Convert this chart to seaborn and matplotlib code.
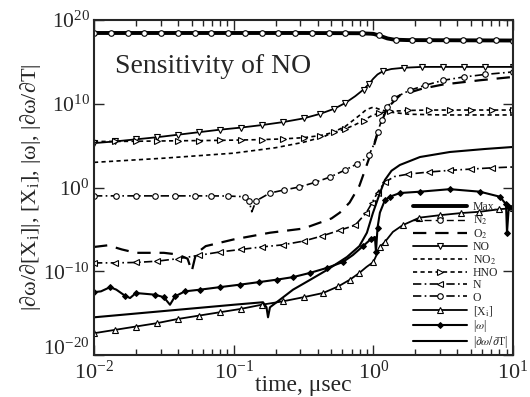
import numpy as np
import matplotlib
matplotlib.use("Agg")
import matplotlib.pyplot as plt
import matplotlib.ticker as mticker
import seaborn as sns

# values, stored as log10 exponents (time in usec)
max_t = [-2.0, -0.5, -0.1, 0.0, 0.05, 0.1, 0.15, 0.25, 1.0]
max_v = [18.45, 18.45, 18.42, 18.35, 18.1, 17.8, 17.65, 17.6, 17.55]

n2_t = [-2.0, -1.88, -1.76, -1.64, -1.52, -1.40, -1.28, -1.16, -1.04, -0.92, -0.80, -0.68, -0.56,
        -0.44, -0.32, -0.20, -0.08, 0.04, 0.16, 0.28, 0.40, 0.52, 0.64, 0.76, 0.88, 1.0]
n2_v = [18.45] * 16 + [18.42, 18.15, 17.65, 17.58, 17.58, 17.57, 17.57, 17.56, 17.56, 17.55]

o2_t = [-2.0, -1.9, -1.8, -1.7, -1.5, -1.4, -1.33, -1.3, -1.27, -1.2, -1.0, -0.74, -0.5, -0.3,
        -0.24, -0.17, -0.1, -0.07, -0.03, 0.01, 0.05, 0.1, 0.19, 0.35, 0.5, 0.76, 1.0]
o2_v = [-7.1, -6.9, -7.4, -7.8, -7.8, -8.0, -8.5, -10.0, -7.9, -7.0, -6.2, -5.4, -4.9, -3.7,
        -3.0, -1.8, 0.2, 1.6, 3.5, 5.3, 7.5, 9.5, 11.0, 11.8, 12.3, 12.8, 13.2]

no_t = [-2.0, -1.85, -1.7, -1.55, -1.4, -1.25, -1.1, -0.95, -0.8, -0.65, -0.5, -0.38, -0.28, -0.2,
        -0.13, -0.07, -0.03, 0.0, 0.03, 0.07, 0.13, 0.22, 0.35, 0.5, 0.65, 0.8, 1.0]
no_v = [5.3, 5.5, 5.75, 6.0, 6.3, 6.6, 6.9, 7.15, 7.45, 7.8, 8.25, 8.8, 9.4, 10.1,
        10.9, 11.7, 12.4, 13.0, 13.5, 13.9, 14.15, 14.3, 14.4, 14.4, 14.4, 14.4, 14.4]

no2_t = [-2.0, -1.5, -1.0, -0.7, -0.5, -0.35, -0.2, -0.1, -0.05, 0.0, 0.05, 0.12, 0.25, 0.5, 1.0]
no2_v = [3.0, 3.5, 4.1, 4.75, 5.4, 6.1, 7.3, 8.6, 9.3, 9.6, 9.3, 9.0, 8.75, 8.66, 8.66]

hno_t = [-2.0, -1.85, -1.7, -1.55, -1.4, -1.25, -1.1, -0.95, -0.8, -0.65, -0.5, -0.38, -0.28,
         -0.2, -0.13, -0.07, -0.02, 0.04, 0.12, 0.25, 0.4, 0.55, 0.7, 0.85, 1.0]
hno_v = [5.5, 5.5, 5.52, 5.55, 5.58, 5.6, 5.63, 5.67, 5.72, 5.8, 5.95, 6.2, 6.6,
         7.0, 7.5, 8.0, 8.5, 8.9, 9.1, 9.2, 9.25, 9.25, 9.25, 9.25, 9.25]

n_t = [-2.0, -1.85, -1.7, -1.55, -1.4, -1.25, -1.1, -0.95, -0.8, -0.65, -0.5, -0.37, -0.24,
       -0.13, -0.05, -0.01, 0.03, 0.08, 0.15, 0.25, 0.4, 0.55, 0.7, 0.85, 1.0]
n_v = [-9.0, -9.0, -8.95, -8.8, -8.5, -8.1, -7.7, -7.4, -7.1, -6.85, -6.4, -5.8, -5.1,
       -4.5, -3.0, -1.85, -0.6, 0.6, 1.3, 1.6, 1.85, 2.05, 2.2, 2.35, 2.45]

o_t = [-2.0, -1.84, -1.7, -1.56, -1.42, -1.28, -1.16, -1.04, -0.92, -0.89, -0.87, -0.84, -0.74,
       -0.64, -0.53, -0.42, -0.31, -0.2, -0.12, -0.06, -0.03, 0.0, 0.03, 0.06, 0.1, 0.15, 0.26,
       0.37, 0.5, 0.65, 0.8, 1.0]
o_v = [-1.0, -1.0, -1.0, -1.0, -1.0, -1.0, -1.0, -1.02, -1.1, -1.6, -2.9, -1.6, -0.66,
       -0.3, 0.06, 0.6, 1.25, 2.1, 2.8, 3.4, 3.9, 5.0, 6.6, 8.06, 9.6, 10.7, 11.6,
       12.2, 12.8, 13.2, 13.5, 13.8]

xi_t = [-2.0, -1.85, -1.7, -1.55, -1.4, -1.25, -1.1, -0.95, -0.8, -0.65, -0.5, -0.36, -0.25, -0.167,
        -0.1, -0.05, 0.0, 0.03, 0.047, 0.083, 0.14, 0.21, 0.33, 0.48, 0.63, 0.76, 0.9, 1.0]
xi_v = [-17.4, -17.0, -16.6, -16.2, -15.7, -15.3, -14.9, -14.5, -14.0, -13.6, -13.1, -12.6, -11.8, -11.0,
        -10.2, -9.5, -8.9, -7.8, -7.1, -6.5, -5.3, -4.5, -3.6, -3.3, -3.05, -2.9, -2.6, -2.45]

w_t = [-2.0, -1.95, -1.885, -1.84, -1.78, -1.742, -1.7, -1.63, -1.563, -1.5, -1.456, -1.42, -1.349,
       -1.241, -1.1, -0.955, -0.82, -0.69, -0.575, -0.454, -0.332, -0.218, -0.146, -0.074, -0.02,
       0.011, 0.019, 0.03, 0.047, 0.083, 0.119, 0.19, 0.334, 0.548, 0.763, 0.906, 0.95, 0.957,
       0.97, 1.0]
w_v = [-12.5, -12.4, -11.9, -12.2, -12.9, -13.2, -12.6, -12.7, -12.8, -13.1, -14.0, -13.0, -12.4,
       -12.2, -11.9, -11.6, -11.3, -11.0, -10.7, -10.2, -9.6, -8.9, -8.06, -7.0, -6.2,
       -5.9, -7.7, -4.8, -3.0, -1.5, -1.1, -0.66, -0.5, -0.2, -0.5, -1.1, -2.0, -5.4,
       -2.3, -2.2]

dwdt_t = [-2.0, -1.5, -1.0, -0.79, -0.765, -0.754, -0.74, -0.669, -0.575, -0.45, -0.332, -0.189,
          -0.1, -0.046, -0.003, 0.047, 0.083, 0.13, 0.19, 0.334, 0.548, 0.8, 1.0]
dwdt_v = [-15.5, -14.75, -14.0, -13.7, -14.3, -15.5, -14.3, -13.4, -12.2, -11.0, -9.85, -8.3,
          -7.0, -5.4, -3.04, -0.66, 0.9, 2.0, 2.69, 3.64, 4.24, 4.6, 4.84]

sns.set_style("ticks")
plt.rcParams["font.family"] = ["Liberation Serif", "DejaVu Serif"]
plt.rcParams["mathtext.fontset"] = "stix"

fig = plt.figure(figsize=(5.3, 3.97), dpi=100)
ax = fig.add_axes([94 / 530, 1 - 355 / 397, 419 / 530, 335 / 397])
ax.set_xscale("log")
ax.set_yscale("log")

open_mk = dict(markerfacecolor="white", markeredgecolor="k", markeredgewidth=0.8, markersize=4)

series = [
    ("Max.", max_t, max_v, dict(linewidth=2.8)),
    ("N$_2$", n2_t, n2_v, dict(linewidth=1.0, linestyle=(0, (5, 3)), marker="o", **open_mk)),
    ("O$_2$", o2_t, o2_v, dict(linewidth=1.6, linestyle=(0, (6, 4)))),
    ("NO", no_t, no_v, dict(linewidth=1.3, marker="v", **open_mk)),
    ("NO$_2$", no2_t, no2_v, dict(linewidth=1.2, linestyle=(0, (2.5, 2)))),
    ("HNO", hno_t, hno_v, dict(linewidth=1.2, linestyle=(0, (2.5, 2)), marker=">", **open_mk)),
    ("N", n_t, n_v, dict(linewidth=1.2, linestyle=(0, (5, 2, 1, 2)), marker="<", **open_mk)),
    ("O", o_t, o_v, dict(linewidth=1.2, linestyle=(0, (5, 2, 1, 2)), marker="o", **open_mk)),
    ("[X$_\\mathregular{i}$]", xi_t, xi_v, dict(linewidth=1.3, marker="^", **open_mk)),
    ("|$\\omega$|", w_t, w_v, dict(linewidth=1.5, marker="D", markersize=3,
                                  markerfacecolor="k", markeredgecolor="k")),
    ("|$\\partial\\omega/\\partial$T|", dwdt_t, dwdt_v, dict(linewidth=1.5)),
]

for label, t_exp, v_exp, kw in series:
    t = 10.0 ** np.array(t_exp)
    v = 10.0 ** np.array(v_exp)
    if "marker" in kw:
        kw = dict(kw, markevery=0.03)
    sns.lineplot(x=t, y=v, ax=ax, color="k", label=label, estimator=None, sort=False, **kw)

ax.set_xlim(1e-2, 1e1)
ax.set_ylim(1e-20, 1e20)
ax.yaxis.set_major_locator(mticker.FixedLocator([1e-20, 1e-10, 1e0, 1e10, 1e20]))
ax.yaxis.set_minor_locator(mticker.NullLocator())
ax.xaxis.set_minor_locator(mticker.LogLocator(base=10, subs=np.arange(2, 10)))
ax.xaxis.set_minor_formatter(mticker.NullFormatter())
ax.tick_params(which="both", direction="in", top=True, right=True, width=1, labelsize=16)
ax.tick_params(axis="x", pad=4)
ax.tick_params(axis="y", pad=3, labelsize=15.5)
ax.tick_params(which="major", length=7)
ax.tick_params(which="minor", length=4)
for sp in ax.spines.values():
    sp.set_linewidth(1.5)
# lowest y label sits a little above its tick, clear of the 10^-2 label
ax.yaxis.get_major_ticks()[0].label1.set_verticalalignment("baseline")

ax.set_xlabel("time, \u03bcsec", fontsize=17, labelpad=-6)
ax.set_ylabel("|\u2202\u03c9/\u2202[X$_\\mathregular{i}$]|, [X$_\\mathregular{i}$], |\u03c9|, |\u2202\u03c9/\u2202T|",
              fontsize=16, labelpad=0)
ax.text(0.05, 0.86, "Sensitivity of NO", transform=ax.transAxes, fontsize=20, va="center")

ax.legend(loc="lower right", frameon=False, fontsize=8.5, handlelength=4.6,
          labelspacing=0.02, handletextpad=0.5, borderaxespad=0.2, borderpad=0.2)

fig.savefig("out.png", dpi=100)
